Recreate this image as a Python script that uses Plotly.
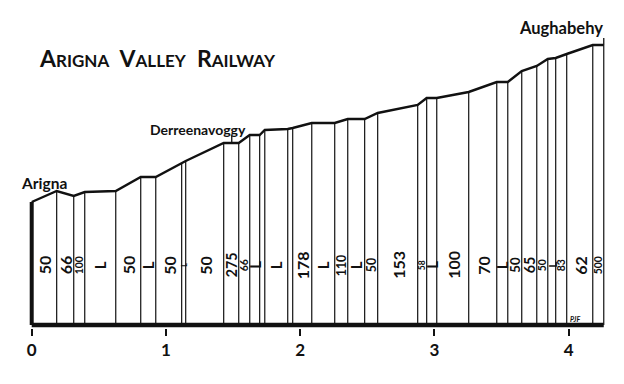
import numpy as np
import plotly.graph_objects as go

# Distance along line (miles) of each change of gradient, and drawn height of the profile there
miles = [0.0, 0.186, 0.313, 0.395, 0.626, 0.812, 0.924, 1.117, 1.147, 1.430, 1.542,
         1.624, 1.698, 1.736, 1.907, 1.944, 2.086, 2.257, 2.354, 2.480, 2.577,
         2.875, 2.942, 3.017, 3.255, 3.464, 3.546, 3.650, 3.762, 3.844, 3.903,
         3.985, 4.179, 4.261]
height = [123, 134, 129, 133, 134, 148, 148, 162, 164, 182, 182,
          190, 190, 195, 196, 197, 202, 202, 206, 206, 212,
          220, 227, 227, 233, 243, 243, 254, 259, 266, 267,
          271, 280, 280]
# Gradient of each section ("1 in n", L = level)
gradients = ["50", "66", "100", "L", "50", "L", "50", "L", "50", "275", "66",
             "L", "", "L", "", "178", "L", "110", "L", "50", "153",
             "58", "L", "100", "70", "L", "50", "65", "50", "L", "83",
             "62", "500"]
stations = ["Arigna", "Derreenavoggy", "Aughabehy"]
station_miles = [0.0, 1.49, 4.261]
mile_ticks = [0, 1, 2, 3, 4]
mile_labels = ["0", "1", "2", "3", "4"]

PX_PER_MILE = 584 / 4.35
INK = "#111111"
hand = "Lato"

fig = go.Figure()

# vertical section lines
vx, vy = [], []
for m, h in zip(miles[1:], height[1:]):
    vx += [m, m, None]
    vy += [0, h, None]
fig.add_trace(go.Scatter(x=vx, y=vy, mode="lines", line=dict(color=INK, width=1.2),
                         hoverinfo="skip", showlegend=False))

# profile
fig.add_trace(go.Scatter(x=miles, y=height, mode="lines", line=dict(color=INK, width=2.4),
                         hoverinfo="skip", showlegend=False))

# thick start post and baseline
fig.add_trace(go.Scatter(x=[miles[0], miles[0]], y=[0, height[0]], mode="lines",
                         line=dict(color=INK, width=4), hoverinfo="skip", showlegend=False))
fig.add_trace(go.Scatter(x=[miles[0], miles[-1]], y=[0, 0], mode="lines",
                         line=dict(color=INK, width=4.5), hoverinfo="skip", showlegend=False))

# station ticks
sx, sy = [], []
for sm in station_miles[1:]:
    h = float(np.interp(sm, miles, height))
    sx += [sm, sm, None]
    sy += [h, h + 7, None]
fig.add_trace(go.Scatter(x=sx, y=sy, mode="lines", line=dict(color=INK, width=1.3),
                         hoverinfo="skip", showlegend=False))

annotations = []
# gradient labels
for i, g in enumerate(gradients):
    if not g:
        continue
    mid = (miles[i] + miles[i + 1]) / 2
    wpx = (miles[i + 1] - miles[i]) * PX_PER_MILE
    if g == "L":
        size = float(np.clip(wpx * 1.5, 7, 15))
    else:
        size = float(np.clip(wpx * 0.95, 7, 16))
    annotations.append(dict(x=mid, y=60, xref="x", yref="y", text=g, showarrow=False,
                            textangle=-90, font=dict(family=hand, size=size, color=INK, weight=700)))

# station names
annotations.append(dict(x=station_miles[0], y=142, xref="x", yref="y", text=stations[0],
                        showarrow=False, xanchor="left", xshift=-13,
                        font=dict(family=hand, size=15.5, color=INK, weight=700)))
annotations.append(dict(x=station_miles[1] - 0.626, y=196, xref="x", yref="y", text=stations[1],
                        showarrow=False, xanchor="left",
                        font=dict(family=hand, size=14, color=INK, weight=700)))
annotations.append(dict(x=station_miles[2] + 0.01, y=297, xref="x", yref="y", text=stations[2],
                        showarrow=False, xanchor="right",
                        font=dict(family=hand, size=16.5, color=INK, weight=700)))

# title in small capitals
title = ("A<span style='font-size:17px'>RIGNA</span>  V<span style='font-size:17px'>ALLEY</span>  "
         "R<span style='font-size:17px'>AILWAY</span>")
annotations.append(dict(x=0.037, y=267, xref="x", yref="y", text=title, showarrow=False,
                        xanchor="left", font=dict(family=hand, size=23, color=INK, weight=700)))

annotations.append(dict(x=2.32, y=-17, xref="x", yref="y", text="miles", showarrow=False,
                        font=dict(family=hand, size=16, color=INK, weight=700)))
annotations.append(dict(x=4.045, y=6, xref="x", yref="y", text="<i>PJF</i>", showarrow=False,
                        font=dict(family=hand, size=7, color=INK, weight=700)))
annotations.append(dict(x=2.056, y=-49, xref="x", yref="y", text="AVR gradient profile",
                        showarrow=False, font=dict(family="Liberation Serif", size=12, color=INK)))

fig.update_layout(
    width=624, height=384,
    margin=dict(l=25, r=15, t=25, b=56),
    paper_bgcolor="white", plot_bgcolor="white",
    annotations=annotations,
    xaxis=dict(range=[-0.05, 4.3], tickvals=mile_ticks, ticktext=mile_labels,
               showgrid=False, zeroline=False, showline=False,
               ticks="outside", ticklen=7, tickwidth=2, tickcolor=INK,
               tickfont=dict(family=hand, size=17, color=INK, weight=700)),
    yaxis=dict(range=[-3, 300], visible=False, showgrid=False, zeroline=False),
)

fig.write_html("out.html")
